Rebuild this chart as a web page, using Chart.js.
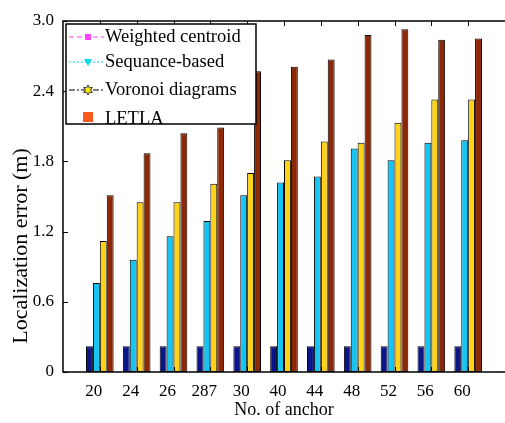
<!DOCTYPE html>
<html>
<head>
<meta charset="utf-8">
<script src="https://cdn.jsdelivr.net/npm/chart.js@4.4.0/dist/chart.umd.min.js"></script>
<style>
  html, body { margin: 0; padding: 0; background: #fff; }
  #wrap { width: 505px; height: 423px; }
</style>
</head>
<body>
<div id="wrap"><canvas id="bars"></canvas></div>
<script>
const anchors = ['20', '24', '26', '287', '30', '40', '44', '48', '52', '56', '60'];
const weighted = [0.22, 0.22, 0.22, 0.22, 0.22, 0.22, 0.22, 0.22, 0.22, 0.22, 0.22];
const sequence = [0.76, 0.96, 1.16, 1.29, 1.51, 1.62, 1.67, 1.91, 1.81, 1.96, 1.98];
const voronoi = [1.12, 1.45, 1.45, 1.61, 1.70, 1.81, 1.97, 1.96, 2.13, 2.33, 2.33];
const letla = [1.51, 1.87, 2.04, 2.09, 2.57, 2.61, 2.67, 2.88, 2.93, 2.84, 2.85];
const yTicks = [0, 0.6, 1.2, 1.8, 2.4, 3.0];

const serif = 'Liberation Serif';

const toPoints = (vals) => vals.map((v, i) => ({ x: i + 1, y: v }));

function barSet(label, vals, color) {
  return {
    label: label,
    data: toPoints(vals),
    backgroundColor: color,
    borderColor: '#000',
    borderWidth: 1,
    borderSkipped: false,
    categoryPercentage: 0.75,
    barPercentage: 1.0
  };
}

// frame, inward ticks, y label and the matlab-style legend box
const matlabBox = {
  id: 'matlabBox',
  afterDraw(chart) {
    const c = chart.ctx;
    const a = chart.chartArea;
    const xs = chart.scales.x;
    const ys = chart.scales.y;
    c.save();
    c.strokeStyle = '#000';
    c.lineWidth = 1.5;
    c.beginPath();
    c.moveTo(a.right, a.top);
    c.lineTo(a.left, a.top);
    c.lineTo(a.left, a.bottom);
    c.lineTo(a.right, a.bottom);
    c.stroke();

    c.lineWidth = 1;
    c.beginPath();
    anchors.forEach((_, i) => {
      const px = Math.round(xs.getPixelForValue(i + 1)) + 0.5;
      c.moveTo(px, a.top);
      c.lineTo(px, a.top + 5);
      c.moveTo(px, a.bottom);
      c.lineTo(px, a.bottom - 5);
    });
    yTicks.forEach(v => {
      const py = Math.round(ys.getPixelForValue(v)) + 0.5;
      c.moveTo(a.left, py);
      c.lineTo(a.left + 5, py);
    });
    c.stroke();

    // y axis label, sits low like in the figure
    c.save();
    c.translate(21, 246);
    c.rotate(-Math.PI / 2);
    c.fillStyle = '#000';
    c.font = '22px "' + serif + '"';
    c.textAlign = 'center';
    c.textBaseline = 'middle';
    c.fillText('Localization error (m)', 0, 0);
    c.restore();

    // legend
    const bx = a.left + 3, by = a.top + 3, bw = 190, bh = 100;
    c.fillStyle = '#fff';
    c.fillRect(bx, by, bw, bh);
    c.save();
    c.beginPath();
    c.rect(bx, by, bw, bh);
    c.clip();

    const lx0 = bx + 3, lx1 = bx + 38, mx = bx + 22;
    const rows = [18, 43, 71, 100];

    // Weighted centroid
    let y = by + rows[0] - 5;
    c.strokeStyle = '#ff40ff';
    c.lineWidth = 1;
    c.setLineDash([5, 3]);
    c.beginPath(); c.moveTo(lx0, y); c.lineTo(lx1, y); c.stroke();
    c.setLineDash([]);
    c.fillStyle = '#ff40ff';
    c.fillRect(mx - 3, y - 3, 6, 6);

    // Sequance-based
    y = by + rows[1] - 5;
    c.strokeStyle = '#00dde8';
    c.setLineDash([2, 2]);
    c.beginPath(); c.moveTo(lx0, y); c.lineTo(lx1, y); c.stroke();
    c.setLineDash([]);
    c.fillStyle = '#00dde8';
    c.beginPath();
    c.moveTo(mx - 4, y - 3); c.lineTo(mx + 4, y - 3); c.lineTo(mx, y + 4);
    c.closePath(); c.fill();

    // Voronoi diagrams
    y = by + rows[2] - 5;
    c.strokeStyle = '#000';
    c.setLineDash([6, 2, 2, 2]);
    c.beginPath(); c.moveTo(lx0, y); c.lineTo(lx1, y); c.stroke();
    c.setLineDash([]);
    c.fillStyle = '#ffee00';
    c.beginPath();
    for (let k = 0; k < 12; k++) {
      const r = k % 2 === 0 ? 5 : 2.6;
      const ang = -Math.PI / 2 + k * Math.PI / 6;
      const px = mx + r * Math.cos(ang), py = y + r * Math.sin(ang);
      if (k === 0) c.moveTo(px, py); else c.lineTo(px, py);
    }
    c.closePath(); c.fill();
    c.strokeStyle = '#333';
    c.stroke();

    // LETLA
    c.fillStyle = '#ff5a1e';
    c.fillRect(mx - 5, by + 88, 10, 10);

    c.fillStyle = '#000';
    c.font = '18.5px "' + serif + '"';
    c.textBaseline = 'alphabetic';
    c.textAlign = 'left';
    const names = ['Weighted centroid', 'Sequance-based', 'Voronoi diagrams', 'LETLA'];
    names.forEach((n, i) => c.fillText(n, bx + 39, by + rows[i]));
    c.restore();

    c.strokeStyle = '#000';
    c.lineWidth = 1.5;
    c.strokeRect(bx, by, bw, bh);
    c.restore();
  }
};

new Chart(document.getElementById('bars'), {
  type: 'bar',
  data: {
    datasets: [
      barSet('Weighted centroid', weighted, '#0b1488'),
      barSet('Sequance-based', sequence, '#14c4f2'),
      barSet('Voronoi diagrams', voronoi, '#ffd21a'),
      barSet('LETLA', letla, '#8c2806')
    ]
  },
  options: {
    responsive: true,
    maintainAspectRatio: false,
    animation: false,
    layout: { padding: { top: 21, right: 0, left: 0, bottom: 0 } },
    plugins: {
      legend: { display: false },
      tooltip: { enabled: false }
    },
    scales: {
      x: {
        type: 'linear',
        min: 0,
        max: 12,
        offset: false,
        grid: { display: false, drawTicks: false },
        border: { display: false },
        afterFit: (s) => { s.height = 51; },
        afterBuildTicks: (s) => {
          s.ticks = anchors.map((_, i) => ({ value: i + 1 }));
        },
        ticks: {
          autoSkip: false,
          maxRotation: 0,
          padding: 9,
          labelOffset: -6,
          color: '#000',
          font: { family: serif, size: 17 },
          callback: (v) => anchors[v - 1] || ''
        },
        title: {
          display: true,
          text: 'No. of anchor',
          color: '#000',
          font: { family: serif, size: 18 },
          padding: { top: 0, bottom: 2 }
        }
      },
      y: {
        min: 0,
        max: 3,
        grid: { display: false, drawTicks: false },
        border: { display: false },
        afterFit: (s) => { s.width = 63; },
        afterBuildTicks: (s) => {
          s.ticks = yTicks.map(v => ({ value: v }));
        },
        ticks: {
          padding: 9,
          color: '#000',
          font: { family: serif, size: 17 },
          callback: (v) => v === 0 ? '0' : v.toFixed(1)
        },
        title: { display: false }
      }
    }
  },
  plugins: [matlabBox]
});
</script>
</body>
</html>
